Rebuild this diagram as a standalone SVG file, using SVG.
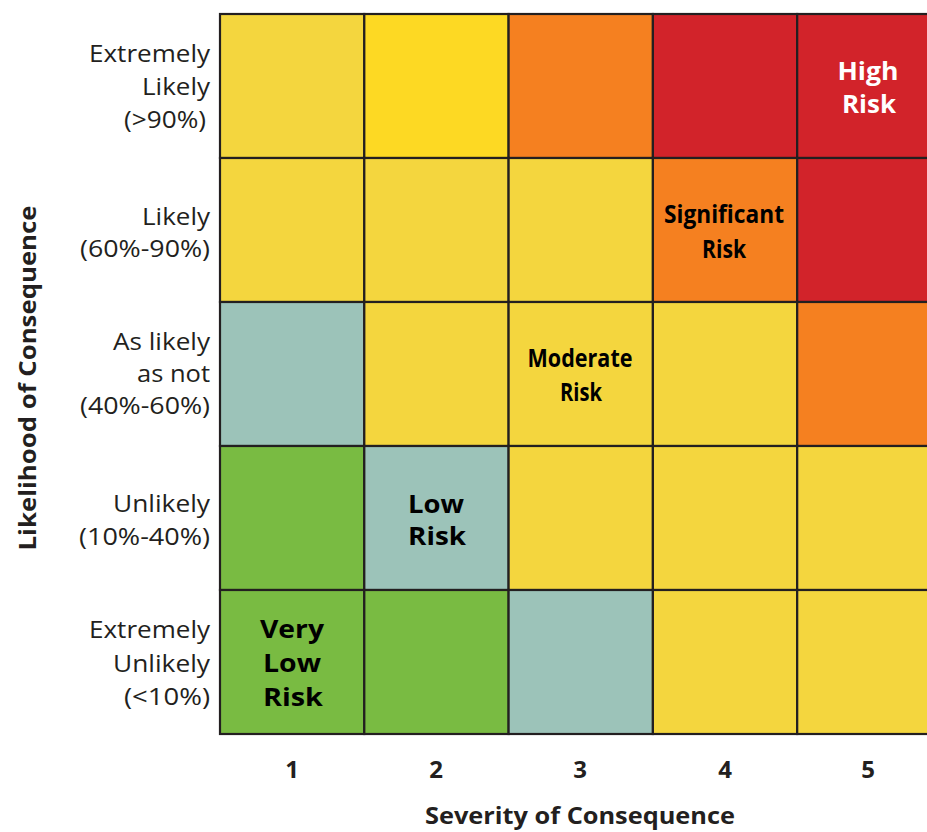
<svg xmlns="http://www.w3.org/2000/svg" width="927" height="832" viewBox="0 0 927 832">
<style>
.c{stroke:#231f20;stroke-width:2.2}
.y{fill:#f4d63e}.by{fill:#fdd923}.o{fill:#f58020}.r{fill:#d2232a}.t{fill:#9cc3b9}.g{fill:#79bb42}
.lab{font-family:"Open Sans","Noto Sans",sans-serif;font-size:24px;fill:#231f20;text-anchor:end}
.b{font-family:"Open Sans","Noto Sans",sans-serif;font-weight:700;font-size:25px;fill:#000;text-anchor:middle}
.bc{font-family:"Open Sans","Noto Sans",sans-serif;font-weight:700;font-size:25px;fill:#000;text-anchor:middle}
.ax{font-family:"Open Sans","Noto Sans",sans-serif;font-weight:700;font-size:24px;fill:#231f20;text-anchor:middle}
</style>
<rect width="927" height="832" fill="#fff"/>
<g id="grid">
<g id="row1">
<rect class="c y" x="220" y="14" width="144.3" height="144"/>
<rect class="c by" x="364.3" y="14" width="144.3" height="144"/>
<rect class="c o" x="508.6" y="14" width="144.3" height="144"/>
<rect class="c r" x="652.9" y="14" width="144.3" height="144"/>
<rect class="c r" x="797.2" y="14" width="144.3" height="144"/>
</g>
<g id="row2">
<rect class="c y" x="220" y="158" width="144.3" height="144"/>
<rect class="c y" x="364.3" y="158" width="144.3" height="144"/>
<rect class="c y" x="508.6" y="158" width="144.3" height="144"/>
<rect class="c o" x="652.9" y="158" width="144.3" height="144"/>
<rect class="c r" x="797.2" y="158" width="144.3" height="144"/>
</g>
<g id="row3">
<rect class="c t" x="220" y="302" width="144.3" height="144"/>
<rect class="c y" x="364.3" y="302" width="144.3" height="144"/>
<rect class="c y" x="508.6" y="302" width="144.3" height="144"/>
<rect class="c y" x="652.9" y="302" width="144.3" height="144"/>
<rect class="c o" x="797.2" y="302" width="144.3" height="144"/>
</g>
<g id="row4">
<rect class="c g" x="220" y="446" width="144.3" height="144"/>
<rect class="c t" x="364.3" y="446" width="144.3" height="144"/>
<rect class="c y" x="508.6" y="446" width="144.3" height="144"/>
<rect class="c y" x="652.9" y="446" width="144.3" height="144"/>
<rect class="c y" x="797.2" y="446" width="144.3" height="144"/>
</g>
<g id="row5">
<rect class="c g" x="220" y="590" width="144.3" height="144"/>
<rect class="c g" x="364.3" y="590" width="144.3" height="144"/>
<rect class="c t" x="508.6" y="590" width="144.3" height="144"/>
<rect class="c y" x="652.9" y="590" width="144.3" height="144"/>
<rect class="c y" x="797.2" y="590" width="144.3" height="144"/>
</g>
</g>
<g id="cell-labels">
<g id="high-risk">
<text class="b" x="868" y="80" style="fill:#fff" textLength="61" lengthAdjust="spacingAndGlyphs">High</text>
<text class="b" x="869" y="113" style="fill:#fff" textLength="54" lengthAdjust="spacingAndGlyphs">Risk</text>
</g>
<g id="significant-risk">
<text class="bc" x="724" y="223" textLength="120" lengthAdjust="spacingAndGlyphs">Significant</text>
<text class="bc" x="724" y="258" textLength="44" lengthAdjust="spacingAndGlyphs">Risk</text>
</g>
<g id="moderate-risk">
<text class="bc" x="580" y="367" textLength="105" lengthAdjust="spacingAndGlyphs">Moderate</text>
<text class="bc" x="581" y="401" textLength="42" lengthAdjust="spacingAndGlyphs">Risk</text>
</g>
<g id="low-risk">
<text class="b" x="436" y="513" textLength="56" lengthAdjust="spacingAndGlyphs">Low</text>
<text class="b" x="437" y="545" textLength="58" lengthAdjust="spacingAndGlyphs">Risk</text>
</g>
<g id="very-low-risk">
<text class="b" x="292" y="638" textLength="64" lengthAdjust="spacingAndGlyphs">Very</text>
<text class="b" x="292" y="672" textLength="58" lengthAdjust="spacingAndGlyphs">Low</text>
<text class="b" x="293" y="706" textLength="60" lengthAdjust="spacingAndGlyphs">Risk</text>
</g>
</g>
<g id="row-labels">
<g id="lk5">
<text class="lab" x="210" y="62" textLength="121" lengthAdjust="spacingAndGlyphs">Extremely</text>
<text class="lab" x="210" y="95" textLength="68" lengthAdjust="spacingAndGlyphs">Likely</text>
<text class="lab" x="206" y="128" textLength="82" lengthAdjust="spacingAndGlyphs">(&gt;90%)</text>
</g>
<g id="lk4">
<text class="lab" x="210" y="225" textLength="68" lengthAdjust="spacingAndGlyphs">Likely</text>
<text class="lab" x="210" y="257" textLength="130" lengthAdjust="spacingAndGlyphs">(60%-90%)</text>
</g>
<g id="lk3">
<text class="lab" x="210" y="350" textLength="97" lengthAdjust="spacingAndGlyphs">As likely</text>
<text class="lab" x="210" y="382" textLength="73" lengthAdjust="spacingAndGlyphs">as not</text>
<text class="lab" x="210" y="414" textLength="130" lengthAdjust="spacingAndGlyphs">(40%-60%)</text>
</g>
<g id="lk2">
<text class="lab" x="210" y="512" textLength="97" lengthAdjust="spacingAndGlyphs">Unlikely</text>
<text class="lab" x="210" y="545" textLength="131" lengthAdjust="spacingAndGlyphs">(10%-40%)</text>
</g>
<g id="lk1">
<text class="lab" x="210" y="638" textLength="121" lengthAdjust="spacingAndGlyphs">Extremely</text>
<text class="lab" x="210" y="672" textLength="97" lengthAdjust="spacingAndGlyphs">Unlikely</text>
<text class="lab" x="210" y="705" textLength="86" lengthAdjust="spacingAndGlyphs">(&lt;10%)</text>
</g>
</g>
<g id="col-labels">
<text class="ax" x="292" y="778">1</text>
<text class="ax" x="436" y="778">2</text>
<text class="ax" x="580" y="778">3</text>
<text class="ax" x="725" y="778">4</text>
<text class="ax" x="868" y="778">5</text>
</g>
<g id="axis-titles">
<text class="ax" x="580" y="824" textLength="310" lengthAdjust="spacingAndGlyphs">Severity of Consequence</text>
<text class="ax" transform="translate(36,378) rotate(-90)" x="0" y="0" textLength="345" lengthAdjust="spacingAndGlyphs">Likelihood of Consequence</text>
</g>
</svg>
